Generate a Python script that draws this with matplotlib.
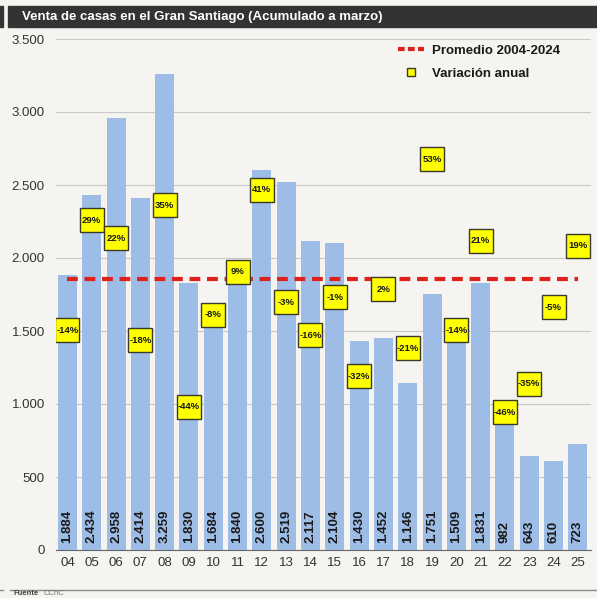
import matplotlib.pyplot as plt
from matplotlib.lines import Line2D
from matplotlib.patches import Rectangle

# ================= DATA =================
YEARS = ["04", "05", "06", "07", "08", "09", "10", "11", "12", "13", "14",
         "15", "16", "17", "18", "19", "20", "21", "22", "23", "24", "25"]
SALES = [1884, 2434, 2958, 2414, 3259, 1830, 1684, 1840, 2600, 2519, 2117,
         2104, 1430, 1452, 1146, 1751, 1509, 1831, 982, 643, 610, 723]
VARIATION = [-14, 29, 22, -18, 35, -44, -8, 9, 41, -3, -16,
             -1, -32, 2, -21, 53, -14, 21, -46, -35, -5, 19]
AVG_FIRST, AVG_LAST = "04", "24"
Y_TICKS = [0, 500, 1000, 1500, 2000, 2500, 3000, 3500]

# ================= STYLE =================
BG_COLOR = "#f5f4f0"
BAR_COLOR = "#9dbde6"
AVG_COLOR = "#e0201b"
BOX_COLOR = "#ffff00"
BOX_EDGE = "#3a3a2a"
TITLE_BG = "#333333"
TEXT_COLOR = "#1a1a1a"
GRID_COLOR = "#c8c8c8"

plt.rcParams["font.family"] = ["Liberation Sans", "DejaVu Sans"]


def fmt_thousands(v):
    return f"{v:,.0f}".replace(",", ".")


fig = plt.figure(figsize=(5.97, 5.98), dpi=100, facecolor=BG_COLOR)

# title banner
fig.patches.append(Rectangle((8 / 597, 1 - 27 / 598), 1, 21 / 598,
                             transform=fig.transFigure, color=TITLE_BG, zorder=0))
fig.patches.append(Rectangle((0, 1 - 27 / 598), 3 / 597, 21 / 598,
                             transform=fig.transFigure, color=TITLE_BG, zorder=0))
fig.text(22 / 597, 1 - 17 / 598, "Venta de casas en el Gran Santiago (Acumulado a marzo)",
         color="white", fontsize=9.5, fontweight="bold", va="center", ha="left")

# footer rule + source
fig.add_artist(Line2D([10 / 597, 1], [1 - 590 / 598] * 2, transform=fig.transFigure,
                      color="#8a8a8a", lw=1))
fig.add_artist(Line2D([0, 3 / 597], [1 - 590 / 598] * 2, transform=fig.transFigure,
                      color="#8a8a8a", lw=1))
fig.text(14 / 597, 1 / 598, "Fuente", fontsize=5.5, fontweight="bold",
         color="#444444", va="bottom")
fig.text(44 / 597, 1 / 598, "CChC", fontsize=5.5, color="#777777", va="bottom")

ax = fig.add_axes([56 / 597, 1 - 550 / 598, 535 / 597, 511 / 598])
ax.set_facecolor(BG_COLOR)

x = list(range(len(YEARS)))
ax.bar(x, SALES, width=0.78, color=BAR_COLOR, zorder=2)

for xi, v in zip(x, SALES):
    ax.annotate(fmt_thousands(v), (xi, 0), xytext=(0, 5), textcoords="offset points",
                rotation=90, ha="center", va="bottom", fontsize=9.5,
                fontweight="bold", color=TEXT_COLOR, zorder=3)

# average line across 2004-2024
i0, i1 = YEARS.index(AVG_FIRST), YEARS.index(AVG_LAST)
avg = sum(SALES[i0:i1 + 1]) / (i1 - i0 + 1)
ax.plot([x[0], x[-1]], [avg, avg], color=AVG_COLOR, lw=3, ls=(0, (2.6, 1.6)),
        zorder=4)

ax.set_xlim(-0.47, 21.54)
ax.set_ylim(0, 3500)
ax.set_yticks(Y_TICKS)
ax.set_yticklabels([fmt_thousands(t) for t in Y_TICKS])
ax.set_xticks(x)
ax.set_xticklabels(YEARS)
ax.tick_params(axis="both", length=0, labelsize=9.5, colors="#333333")
ax.tick_params(axis="x", pad=5)
ax.tick_params(axis="y", pad=8)
ax.grid(axis="y", color=GRID_COLOR, lw=0.8, zorder=0)
for side in ["top", "right", "left"]:
    ax.spines[side].set_visible(False)
ax.spines["bottom"].set_color("#666666")
ax.spines["bottom"].set_zorder(5)

# yearly variation on its own -100%..100% scale
ax2 = ax.twinx()
ax2.set_ylim(-100, 100)
ax2.set_yticks([])
for side in ax2.spines.values():
    side.set_visible(False)
ax2.plot(x, VARIATION, ls="none", marker="s", markersize=17,
         markerfacecolor=BOX_COLOR, markeredgecolor=BOX_EDGE, markeredgewidth=1,
         zorder=6)
for xi, v in zip(x, VARIATION):
    ax2.text(xi, v, f"{v}%", ha="center", va="center", fontsize=6.8,
             fontweight="bold", color=TEXT_COLOR, zorder=7)

handles = [
    Line2D([], [], color=AVG_COLOR, lw=3, ls=(0, (1.6, 0.8))),
    Line2D([], [], ls="none", marker="s", markersize=6,
           markerfacecolor=BOX_COLOR, markeredgecolor=BOX_EDGE),
]
leg = ax2.legend(handles, ["Promedio 2004-2024", "Variación anual"],
                 loc="upper right", bbox_to_anchor=(0.965, 1.012), frameon=False,
                 handlelength=2.0, handletextpad=0.6, labelspacing=0.8,
                 prop={"size": 9.5, "weight": "bold"})
for t in leg.get_texts():
    t.set_color(TEXT_COLOR)

plt.savefig("out.png", dpi=100, facecolor=BG_COLOR)
